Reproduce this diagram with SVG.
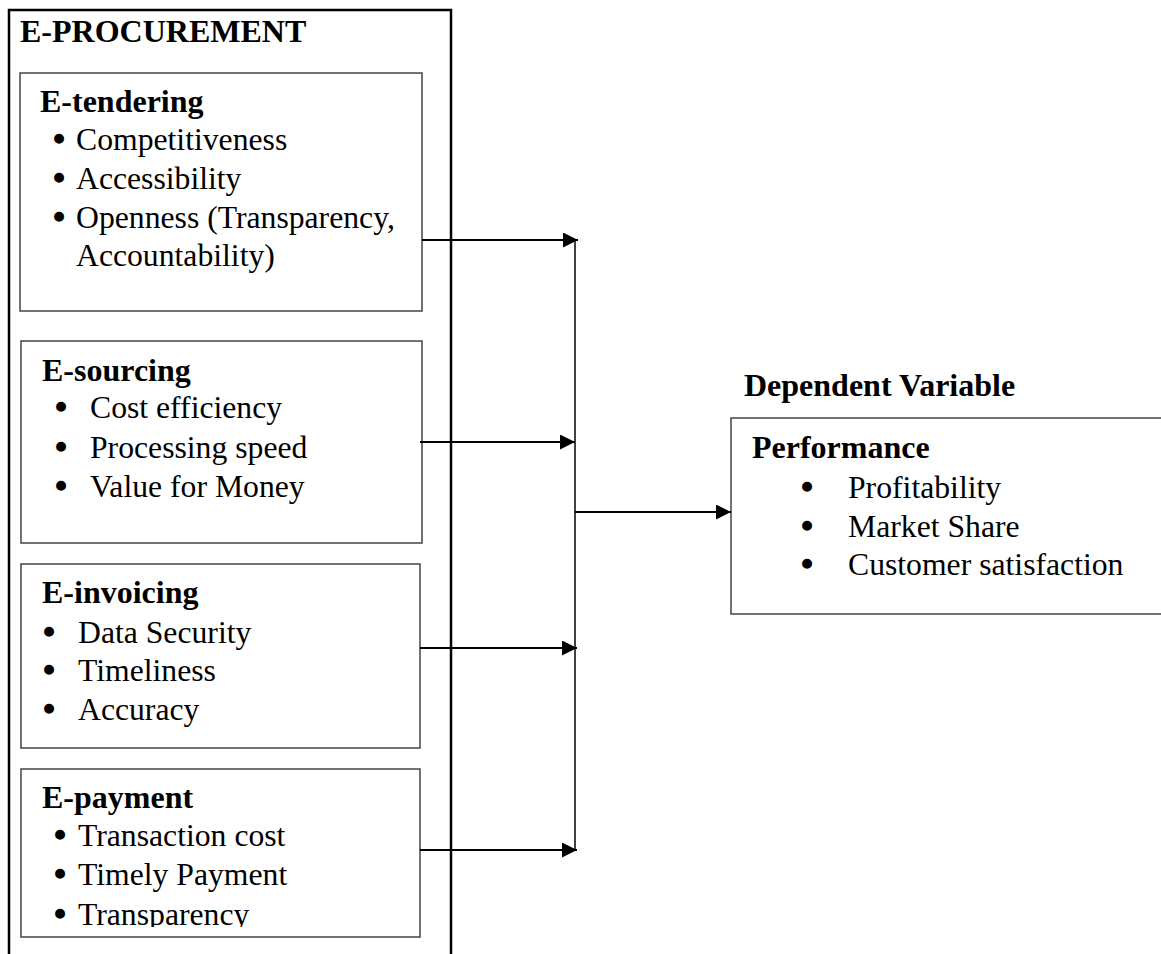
<svg xmlns="http://www.w3.org/2000/svg" width="1161" height="954" viewBox="0 0 1161 954">
<style>
  .bg{fill:#ffffff}
  .outer{fill:none;stroke:#000;stroke-width:2.5}
  .box{fill:#fff;stroke:#444;stroke-width:1.5}
  .h{font-family:"Liberation Serif","Times New Roman",serif;font-weight:bold;font-size:32px;fill:#000}
  .t{font-family:"Liberation Serif","Times New Roman",serif;font-size:31.7px;fill:#000}
  .b{text-anchor:middle;stroke:#000;stroke-width:2.4;stroke-linejoin:round}
  .c{fill:none;stroke:#000;stroke-width:2.2}
  .v{fill:none;stroke:#000;stroke-width:1.5}
</style>
<defs>
  <marker id="arr" markerUnits="userSpaceOnUse" markerWidth="16" markerHeight="16" refX="15" refY="7.5" orient="auto">
    <path d="M0,0 L15,7.5 L0,15 Z" fill="#000"/>
  </marker>
  <clipPath id="payclip"><rect x="20" y="768" width="402" height="159"/></clipPath>
</defs>
<rect class="bg" x="0" y="0" width="1161" height="954"/>

<g id="e-procurement">
  <path class="outer" d="M9,954 V10 H451 V954"/>
  <text class="h" x="20" y="42">E-PROCUREMENT</text>
</g>

<g id="e-tendering">
  <rect class="box" x="20" y="73" width="402" height="238"/>
  <text class="h" x="40" y="112">E-tendering</text>
  <text class="t"><tspan class="b" x="59" y="150">•</tspan><tspan x="76" y="150">Competitiveness</tspan></text>
  <text class="t"><tspan class="b" x="59" y="189">•</tspan><tspan x="76" y="189">Accessibility</tspan></text>
  <text class="t"><tspan class="b" x="59" y="228">•</tspan><tspan x="76" y="228">Openness (Transparency,</tspan><tspan x="76" y="266">Accountability)</tspan></text>
</g>

<g id="e-sourcing">
  <rect class="box" x="21" y="341" width="401" height="202"/>
  <text class="h" x="42" y="381">E-sourcing</text>
  <text class="t"><tspan class="b" x="61" y="418">•</tspan><tspan x="90" y="418">Cost efficiency</tspan></text>
  <text class="t"><tspan class="b" x="61" y="458">•</tspan><tspan x="90" y="458">Processing speed</tspan></text>
  <text class="t"><tspan class="b" x="61" y="497">•</tspan><tspan x="90" y="497">Value for Money</tspan></text>
</g>

<g id="e-invoicing">
  <rect class="box" x="21" y="564" width="399" height="184"/>
  <text class="h" x="42" y="603">E-invoicing</text>
  <text class="t"><tspan class="b" x="49" y="643">•</tspan><tspan x="78" y="643">Data Security</tspan></text>
  <text class="t"><tspan class="b" x="49" y="681">•</tspan><tspan x="78" y="681">Timeliness</tspan></text>
  <text class="t"><tspan class="b" x="49" y="720">•</tspan><tspan x="78" y="720">Accuracy</tspan></text>
</g>

<g id="e-payment">
  <rect class="box" x="21" y="769" width="399" height="168"/>
  <text class="h" x="42" y="808">E-payment</text>
  <text class="t"><tspan class="b" x="60" y="846">•</tspan><tspan x="78" y="846">Transaction cost</tspan></text>
  <text class="t"><tspan class="b" x="60" y="885">•</tspan><tspan x="78" y="885">Timely Payment</tspan></text>
  <g clip-path="url(#payclip)">
    <text class="t"><tspan class="b" x="60" y="925">•</tspan><tspan x="78" y="925">Transparency</tspan></text>
  </g>
</g>

<g id="performance">
  <text class="h" x="744" y="396">Dependent Variable</text>
  <path class="box" d="M1165,418 H731 V614 H1165"/>
  <text class="h" x="752" y="458">Performance</text>
  <text class="t"><tspan class="b" x="807" y="498">•</tspan><tspan x="848" y="498">Profitability</tspan></text>
  <text class="t"><tspan class="b" x="807" y="537">•</tspan><tspan x="848" y="537">Market Share</tspan></text>
  <text class="t"><tspan class="b" x="807" y="575">•</tspan><tspan x="848" y="575">Customer satisfaction</tspan></text>
</g>

<g id="connectors">
  <line class="v" x1="575" y1="240" x2="575" y2="850"/>
  <line class="c" x1="422" y1="240" x2="578" y2="240" marker-end="url(#arr)"/>
  <line class="c" x1="420" y1="442" x2="575" y2="442" marker-end="url(#arr)"/>
  <line class="c" x1="575" y1="512" x2="731" y2="512" marker-end="url(#arr)"/>
  <line class="c" x1="420" y1="648" x2="577" y2="648" marker-end="url(#arr)"/>
  <line class="c" x1="420" y1="850" x2="577" y2="850" marker-end="url(#arr)"/>
</g>
</svg>
